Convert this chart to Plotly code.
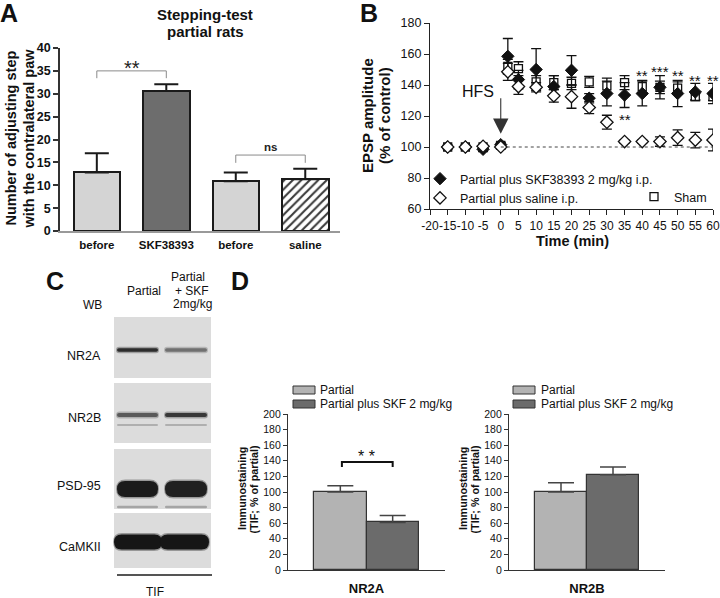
import plotly.graph_objects as go

W, H = 720, 598
FONT = "Liberation Sans, Arial, sans-serif"

# ---------------- Panel A data ----------------
a_labels = ["before", "SKF38393", "before", "saline"]
a_values = [12.8, 30.6, 10.9, 11.3]
a_errors = [4.2, 1.5, 1.9, 2.3]

# ---------------- Panel B data ----------------
b_time = [-15, -10, -5, 0, 2, 5, 10, 15, 20, 25, 30, 35, 40, 45, 50, 55, 60]
b_skf = [100, 100, 98.5, 101.5, 158.5, 143.5, 150, 139, 149.5, 131.5, 134.5, 133.5, 134.5, 138.5, 134.5, 135.5, 134.5]
b_skf_err = [1, 1, 1.5, 1.5, 11.5, 6, 13.5, 7, 9.5, 3, 8, 8, 8, 7.5, 8.5, 5.5, 6.5]
b_saline = [100, 100, 100.5, 100, 148.5, 139, 138.5, 133, 132.5, 125.5, 116, 103.5, 103.5, 103.5, 106, 104.5, 104.5]
b_saline_err = [1, 1, 1, 1, 5.5, 5, 3, 4, 7.5, 4, 4.5, 1, 1, 3, 5, 5, 7]
b_sham = [100, 100, 100, 101, 152, 150.5, 142, 141.5, 141, 142, 139.5, 141.5, 139, 138.5, 138, 132.5, 132.5]
b_sham_err = [1, 1, 1, 1, 4.5, 4.5, 4, 4.5, 4, 3.5, 5, 4.5, 4, 4, 4, 2, 2.5]
b_tick_vals = [-20, -15, -10, -5, 0, 5, 10, 15, 20, 25, 30, 35, 40, 45, 50, 55, 60]
b_tick_text = ["-20", "-15", "-10", "-5", "0", "5", "10", "15", "20", "25", "30", "35",
               "40", "45", "50", "55", "60"]
b_stars = ["**", "***", "**", "**", "**"]
b_star_time = [40, 45, 50, 55, 60]
b_star_y = [146, 149, 146, 143, 143]

# ---------------- Panel C (blot) band intensities (0..1) ----------------
blot_rows = ["NR2A", "NR2B", "PSD-95", "CaMKII"]
blot_intensity = {"NR2A": [0.80, 0.50], "NR2B": [0.60, 0.75],
                  "PSD-95": [0.88, 0.86], "CaMKII": [0.90, 0.90]}

# ---------------- Panel D data ----------------
d_groups = ["Partial", "Partial plus SKF 2 mg/kg"]
d_nr2a = [100, 61]
d_nr2a_err = [8, 9]
d_nr2b = [100, 122]
d_nr2b_err = [12, 10]
d_colors = ["#b3b3b3", "#6b6b6b"]


def X(px):
    return px / W


def Y(py):
    return 1 - py / H


fig = go.Figure()

# ---------- Panel A bars ----------
fig.add_trace(go.Bar(
    x=[0, 1, 2], y=a_values[:3], width=0.67,
    marker=dict(color=["#d4d4d4", "#6d6d6d", "#d4d4d4"],
                line=dict(color="#1a1a1a", width=2)),
    error_y=dict(type="data", array=a_errors[:3], arrayminus=[0] * 3, symmetric=False,
                 color="#1a1a1a", thickness=2, width=12),
    xaxis="x", yaxis="y", showlegend=False, hoverinfo="skip"))
fig.add_trace(go.Bar(
    x=[3], y=a_values[3:], width=0.67,
    marker=dict(color="#ffffff", line=dict(color="#1a1a1a", width=2),
                pattern=dict(shape="/", fgcolor="#3a3a3a", bgcolor="#ffffff",
                             size=6, solidity=0.35, fillmode="overlay", fgopacity=1)),
    error_y=dict(type="data", array=a_errors[3:], arrayminus=[0], symmetric=False,
                 color="#1a1a1a", thickness=2, width=12),
    xaxis="x", yaxis="y", showlegend=False, hoverinfo="skip"))

# ---------- Panel B scatter ----------
fig.add_trace(go.Scatter(
    x=b_time, y=b_sham, mode="markers", name="Sham", legend="legend2",
    marker=dict(symbol="square", size=8, color="white", line=dict(color="#111", width=1.3)),
    error_y=dict(type="data", array=b_sham_err, color="#111", thickness=1.3, width=5),
    xaxis="x2", yaxis="y2"))
fig.add_trace(go.Scatter(
    x=b_time, y=b_skf, mode="markers", name="Partial plus SKF38393 2 mg/kg i.p.",
    marker=dict(symbol="diamond", size=9.5, color="#111", line=dict(color="#111", width=1)),
    error_y=dict(type="data", array=b_skf_err, color="#111", thickness=1.3, width=5),
    xaxis="x2", yaxis="y2"))
fig.add_trace(go.Scatter(
    x=b_time, y=b_saline, mode="markers", name="Partial plus saline i.p.",
    marker=dict(symbol="diamond", size=9.5, color="white", line=dict(color="#111", width=1.3)),
    error_y=dict(type="data", array=b_saline_err, color="#111", thickness=1.3, width=5),
    xaxis="x2", yaxis="y2"))

# ---------- Panel D bars ----------
for xa, ya, vals, errs in [("x3", "y3", d_nr2a, d_nr2a_err), ("x4", "y4", d_nr2b, d_nr2b_err)]:
    fig.add_trace(go.Bar(
        x=[0, 1], y=vals, width=1,
        marker=dict(color=d_colors, line=dict(color="#333", width=1.2)),
        error_y=dict(type="data", array=errs, arrayminus=[0, 0], symmetric=False,
                     color="#444", thickness=1.5, width=13),
        xaxis=xa, yaxis=ya, showlegend=False, hoverinfo="skip"))

common = dict(automargin=False, showgrid=False, zeroline=False)

layout = dict(
    template="none",
    width=W, height=H, margin=dict(l=0, r=0, t=0, b=0, pad=0, autoexpand=False),
    paper_bgcolor="white", plot_bgcolor="white",
    font=dict(family=FONT, color="#111"),
    bargap=0, barmode="overlay",
    # Panel A
    xaxis=dict(domain=[X(60), X(340)], range=[-0.53, 3.5], anchor="y",
               tickvals=[0, 1, 2, 3], ticktext=a_labels, ticks="", ticklabelstandoff=2,
               tickfont=dict(family=FONT, size=11.5, weight="bold", color="#111"),
               showline=True, linecolor="#999", linewidth=1.5, **common),
    yaxis=dict(domain=[Y(231), Y(48)], range=[0, 40], dtick=5, anchor="x",
               ticks="outside", ticklen=5, tickwidth=1.5, tickcolor="#333",
               tickfont=dict(family=FONT, size=12.5, weight="bold", color="#111"),
               showline=True, linecolor="#333", linewidth=1.5, **common),
    # Panel B
    xaxis2=dict(domain=[X(430), X(713)], range=[-20, 60], tickvals=b_tick_vals,
                ticktext=b_tick_text, anchor="y2",
                ticks="outside", ticklen=5, tickwidth=1.3, tickcolor="#222", tickangle=0,
                tickfont=dict(family=FONT, size=12, color="#111"),
                showline=True, linecolor="#222", linewidth=1.3, **common),
    yaxis2=dict(domain=[Y(209), Y(23)], range=[60, 180], dtick=20, anchor="x2",
                ticks="outside", ticklen=5, tickwidth=1.3, tickcolor="#222",
                tickfont=dict(family=FONT, size=12.5, color="#111"),
                showline=True, linecolor="#222", linewidth=1.3, **common),
    # Panel D
    xaxis3=dict(domain=[X(288), X(445)], range=[-1, 2], anchor="y3",
                tickvals=[0.5], ticktext=["NR2A"], ticks="", ticklabelstandoff=6,
                tickfont=dict(family=FONT, size=13, weight="bold", color="#111"),
                showline=True, linecolor="#333", linewidth=1.2, **common),
    yaxis3=dict(domain=[Y(570), Y(414)], range=[0, 200], dtick=20, anchor="x3",
                ticks="outside", ticklen=4, tickcolor="#333",
                tickfont=dict(family=FONT, size=10.5, color="#111"),
                showline=True, linecolor="#333", linewidth=1.2, **common),
    xaxis4=dict(domain=[X(509), X(665)], range=[-1, 2], anchor="y4",
                tickvals=[0.5], ticktext=["NR2B"], ticks="", ticklabelstandoff=6,
                tickfont=dict(family=FONT, size=13, weight="bold", color="#111"),
                showline=True, linecolor="#333", linewidth=1.2, **common),
    yaxis4=dict(domain=[Y(570), Y(414)], range=[0, 200], dtick=20, anchor="x4",
                ticks="outside", ticklen=4, tickcolor="#333",
                tickfont=dict(family=FONT, size=10.5, color="#111"),
                showline=True, linecolor="#333", linewidth=1.2, **common),
    legend=dict(x=X(420), y=Y(164), xanchor="left", yanchor="top",
                font=dict(family=FONT, size=12.5, color="#111"), bgcolor="rgba(0,0,0,0)",
                tracegroupgap=0, itemclick=False),
    legend2=dict(x=X(634), y=Y(182), xanchor="left", yanchor="top",
                 font=dict(family=FONT, size=12.5, color="#111"), bgcolor="rgba(0,0,0,0)",
                 itemclick=False),
)
fig.update_layout(**layout)

ann = []
shapes = []


def text(px, py, s, size=12, bold=False, xanchor="center", angle=0):
    ann.append(dict(x=X(px), y=Y(py), xref="paper", yref="paper", text=s, showarrow=False,
                    xanchor=xanchor, yanchor="middle", textangle=angle,
                    font=dict(family=FONT, size=size, color="#111",
                              weight="bold" if bold else "normal")))


# Panel letters
text(9, 13, "A", 25, True)
text(369, 13, "B", 25, True)
text(55, 281, "C", 25, True)
text(240, 281, "D", 25, True)

# Panel A titles
text(205, 15, "Stepping-test", 15, True)
text(205, 32, "partial rats", 15, True)
text(10, 138.5, "Number of adjusting step", 14.5, True, angle=-90)
text(28, 138.5, "with the contralateral paw", 14.5, True, angle=-90)

# Panel A significance brackets (data coords)
shapes.append(dict(type="path", xref="x", yref="y", path="M 0,33.4 L 0,35 L 1,35 L 1,33.4",
                   line=dict(color="#8a8a8a", width=1)))
shapes.append(dict(type="path", xref="x", yref="y", path="M 2,14.9 L 2,16.6 L 3,16.6 L 3,14.9",
                   line=dict(color="#8a8a8a", width=1)))
ann.append(dict(x=0.5, y=35.6, xref="x", yref="y", text="**", showarrow=False,
                font=dict(family=FONT, size=20, color="#222")))
ann.append(dict(x=2.5, y=18.4, xref="x", yref="y", text="<b>ns</b>", showarrow=False,
                font=dict(family=FONT, size=11.5, color="#222")))

# Panel B titles
text(368, 116, "EPSP amplitude", 15, True, angle=-90)
text(385, 116, "(% of control)", 15, True, angle=-90)
text(572, 241, "Time (min)", 14.5, True)

# Panel B annotations
shapes.append(dict(type="line", xref="x2", yref="y2", x0=0, x1=60, y0=100, y1=100,
                   line=dict(color="#444", width=1, dash="dot")))
ann.append(dict(x=-6.4, y=136, xref="x2", yref="y2", text="HFS", showarrow=False,
                font=dict(family=FONT, size=16, color="#111")))
ann.append(dict(x=0, y=108.5, ax=0, ay=132.5, xref="x2", yref="y2", axref="x2", ayref="y2",
                text="", showarrow=True, arrowhead=2, arrowsize=2.8, arrowwidth=1.1,
                arrowcolor="#333"))
for t, s, yv in zip(b_star_time, b_stars, b_star_y):
    ann.append(dict(x=t, y=yv, xref="x2", yref="y2", text=s, showarrow=False,
                    font=dict(family=FONT, size=15, color="#111")))
ann.append(dict(x=35, y=118, xref="x2", yref="y2", text="**", showarrow=False,
                font=dict(family=FONT, size=15, color="#111")))

# Panel C - western blot
text(92, 305, "WB", 12)
text(144, 291, "Partial", 12)
text(188, 277, "Partial", 12)
text(192, 290.5, "+ SKF", 12)
text(192, 304, "2mg/kg", 12)
row_label_y = [356, 418, 486, 547]
for name, ly in zip(blot_rows, row_label_y):
    text(103, ly, name, 12.5, xanchor="right")
text(155, 592, "TIF", 12)

panels = {"NR2A": (317, 378), "NR2B": (383, 443), "PSD-95": (449, 509), "CaMKII": (513, 568)}
for name, (y0, y1) in panels.items():
    shapes.append(dict(type="rect", xref="paper", yref="paper", x0=X(114), x1=X(211),
                       y0=Y(y1), y1=Y(y0), fillcolor="#dcdcdc", line=dict(width=0), layer="below"))


def gray(intensity):
    v = int(round(225 * (1 - intensity)))
    return f"rgb({v},{v},{v})"


def band(x0, x1, yc, th, color, opacity=1.0):
    r = min(th / 2, (x1 - x0) / 4)
    ya, yb = yc - th / 2, yc + th / 2
    p = (f"M {X(x0 + r)},{Y(ya)} L {X(x1 - r)},{Y(ya)} "
         f"Q {X(x1)},{Y(ya)} {X(x1)},{Y(yc)} Q {X(x1)},{Y(yb)} {X(x1 - r)},{Y(yb)} "
         f"L {X(x0 + r)},{Y(yb)} Q {X(x0)},{Y(yb)} {X(x0)},{Y(yc)} "
         f"Q {X(x0)},{Y(ya)} {X(x0 + r)},{Y(ya)} Z")
    shapes.append(dict(type="path", xref="paper", yref="paper", path=p, opacity=opacity,
                       fillcolor=color, line=dict(width=0), layer="below"))


lanes = [(117, 158), (165, 207)]
band_geom = {"NR2A": (350, 3.5), "NR2B": (415, 4), "PSD-95": (489, 16), "CaMKII": (542, 15)}
for name in blot_rows:
    yc, th = band_geom[name]
    for li, (lx0, lx1) in enumerate(lanes):
        if name == "CaMKII":
            lx0, lx1 = (114, 162) if li == 0 else (160, 209)
        col = gray(blot_intensity[name][li])
        band(lx0 - 1, lx1 + 1, yc, th + 3, col, 0.35)   # soft halo
        band(lx0, lx1, yc, th, col)
# faint secondary bands
for (lx0, lx1) in lanes:
    band(lx0, lx1, 425, 2.2, "rgb(175,175,175)")
    band(lx0, lx1, 507, 2.5, "rgb(165,165,165)")
shapes.append(dict(type="line", xref="paper", yref="paper", x0=X(117), x1=X(212),
                   y0=Y(575), y1=Y(575), line=dict(color="#555", width=2)))

# Panel D legends & titles
for sx, tx in [(293, 318), (513, 539)]:
    for i, (g, c) in enumerate(zip(d_groups, d_colors)):
        py = 390 + 14 * i
        shapes.append(dict(type="rect", xref="paper", yref="paper", x0=X(sx), x1=X(sx + 22),
                           y0=Y(py + 4), y1=Y(py - 4), fillcolor=c,
                           line=dict(color="#333", width=1)))
        text(tx, py, g, 12, xanchor="left")
for cx in (242, 463):
    text(cx, 489, "Immunostaining", 10.8, True, angle=-90)
    text(cx + 11.5, 489, "(TIF; % of partial)", 10.8, True, angle=-90)

shapes.append(dict(type="path", xref="x3", yref="y3", path="M 0.03,132 L 0.03,138.5 L 1,138.5 L 1,132",
                   line=dict(color="#111", width=2)))
ann.append(dict(x=0.5, y=146, xref="x3", yref="y3", text="* *", showarrow=False,
                font=dict(family=FONT, size=16, color="#111")))

fig.update_layout(annotations=ann, shapes=shapes)
fig.write_html("out.html", config={"displayModeBar": False},
               post_script="document.body.style.margin='0';")
